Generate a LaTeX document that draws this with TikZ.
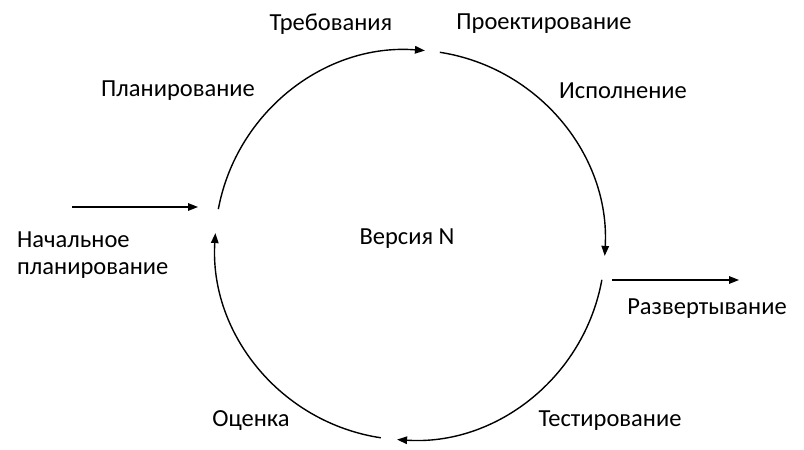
\documentclass[tikz,border=0pt]{standalone}
\usepackage{fontspec}
\setmainfont{Carlito}
\usetikzlibrary{arrows.meta}
\begin{document}
\begin{tikzpicture}[x=1pt,y=1pt,
  lbl/.style={inner sep=0pt,font=\fontsize{24.5}{27}\selectfont},
  arr/.style={line width=1.4pt,-{Triangle[length=10pt,width=7.5pt]}}]
\useasboundingbox (0,0) rectangle (804,450);
\coordinate (c) at (410,205);
\def\R{195}
% labels
\node[lbl] (treb) at (331,426) {Требования};
\node[lbl] (proekt) at (544,426) {Проектирование};
\node[lbl] (plan) at (178,359) {Планирование};
\node[lbl] (isp) at (623,359) {Исполнение};
\node[lbl,align=left,anchor=west] (nach) at (17,195) {Начальное\\планирование};
\node[lbl] (vers) at (407,211) {Версия N};
\node[lbl] (razv) at (707,141) {Развертывание};
\node[lbl] (ocen) at (251,29) {Оценка};
\node[lbl] (test) at (610,29) {Тестирование};
% arcs
\draw[arr] ([shift={(169.4:\R)}]c) arc[start angle=169.4, end angle=85.6, radius=\R];
\draw[arr] ([shift={(81.2:\R)}]c) arc[start angle=81.2, end angle=-3.2, radius=\R];
\draw[arr] ([shift={(-10.3:\R)}]c) arc[start angle=-10.3, end angle=-93.8, radius=\R];
\draw[arr] ([shift={(-98.6:\R)}]c) arc[start angle=-98.6, end angle=-183.5, radius=\R];
% in/out arrows
\coordinate (inA) at (72,243);
\coordinate (inB) at (198,243);
\coordinate (outA) at (612,170);
\coordinate (outB) at (739,170);
\draw[arr] (inA) -- (inB);
\draw[arr] (outA) -- (outB);
\end{tikzpicture}
\end{document}
